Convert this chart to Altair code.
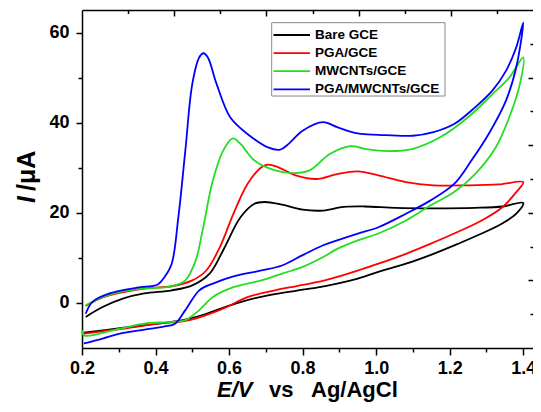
import altair as alt
import pandas as pd

# ---------------- data ----------------
series = ["Bare GCE", "PGA/GCE", "MWCNTs/GCE", "PGA/MWCNTs/GCE"]
colors = ["#000000", "#ff0000", "#22dd22", "#0000ff"]

bare_E = [0.21, 0.256, 0.313, 0.369, 0.444, 0.5, 0.547, 0.584, 0.631, 0.669, 0.697, 0.744, 0.8, 0.856, 0.912,
          0.969, 1.053, 1.156, 1.269, 1.344, 1.4,
          1.381, 1.344, 1.287, 1.222, 1.156, 1.081, 1.006, 0.95, 0.894, 0.838, 0.781, 0.706, 0.631, 0.575,
          0.538, 0.481, 0.406, 0.313, 0.205]
bare_I = [-3.1, -0.9, 1.0, 2.1, 2.8, 3.9, 6.5, 11.7, 19.0, 22.0, 22.4, 21.8, 20.7, 20.5, 21.3,
          21.4, 21.1, 21.0, 21.1, 21.4, 22.2,
          19.8, 17.7, 15.4, 13.1, 10.9, 8.7, 6.9, 5.4, 4.3, 3.4, 2.7, 1.7, 0.2, -1.3,
          -2.4, -3.7, -4.6, -5.5, -6.6]

pga_E = [0.21, 0.256, 0.313, 0.369, 0.444, 0.5, 0.538, 0.575, 0.612, 0.65, 0.688, 0.706, 0.734, 0.781, 0.838,
         0.894, 0.95, 1.006, 1.081, 1.156, 1.25, 1.334, 1.4,
         1.381, 1.344, 1.287, 1.212, 1.147, 1.081, 1.006, 0.95, 0.894, 0.838, 0.781, 0.725, 0.65, 0.594,
         0.538, 0.481, 0.406, 0.313, 0.205]
pga_I = [-0.7, 1.2, 2.4, 3.2, 3.7, 5.0, 7.2, 12.4, 19.8, 26.4, 30.1, 30.7, 30.1, 28.3, 27.5,
         28.6, 29.2, 28.3, 26.8, 26.1, 26.1, 26.3, 26.8,
         24.6, 21.3, 18.3, 15.4, 13.1, 10.9, 8.7, 7.2, 5.8, 4.6, 3.7, 2.8, 1.3, -0.9,
         -2.7, -4.0, -4.6, -5.7, -6.8]

mw_E = [0.21, 0.256, 0.313, 0.369, 0.444, 0.481, 0.509, 0.528, 0.556, 0.584, 0.61, 0.631, 0.669, 0.725, 0.781,
        0.819, 0.875, 0.931, 0.969, 1.034, 1.1, 1.175, 1.25, 1.316, 1.362, 1.4,
        1.391, 1.362, 1.325, 1.269, 1.212, 1.147, 1.081, 1.006, 0.95, 0.894, 0.856, 0.8, 0.744, 0.688,
        0.612, 0.556, 0.519, 0.481, 0.444, 0.369, 0.303, 0.205, 0.201]
mw_I = [-0.5, 1.3, 2.6, 3.2, 3.7, 5.0, 9.4, 16.1, 27.2, 33.8, 36.5, 35.3, 31.6, 29.4, 28.8,
        29.4, 33.1, 34.8, 34.2, 33.7, 34.2, 36.8, 41.2, 46.3, 50.0, 54.5,
        48.6, 41.2, 34.5, 28.6, 24.6, 21.6, 18.3, 15.4, 13.9, 12.0, 10.2, 8.0, 6.5, 5.0,
        3.5, 1.3, -1.6, -3.8, -4.2, -4.6, -5.7, -7.2, -6.0]

pm_E = [0.21, 0.228, 0.275, 0.35, 0.406, 0.425, 0.444, 0.462, 0.481, 0.5, 0.519, 0.53, 0.542, 0.566, 0.603,
        0.65, 0.706, 0.739, 0.762, 0.8, 0.856, 0.894, 0.95, 1.006, 1.1, 1.156, 1.212, 1.269, 1.316, 1.353,
        1.381, 1.4,
        1.381, 1.353, 1.306, 1.259, 1.212, 1.147, 1.081, 1.006, 0.95, 0.894, 0.856, 0.8, 0.744, 0.688,
        0.612, 0.556, 0.519, 0.481, 0.453, 0.425, 0.388, 0.303, 0.256, 0.205]
pm_I = [-2.4, 0.2, 2.1, 3.4, 4.1, 5.8, 8.7, 19.0, 33.8, 48.6, 54.5, 55.4, 54.5, 48.6, 41.2,
        37.5, 34.5, 34.0, 35.3, 38.2, 40.1, 39.0, 37.6, 37.3, 37.1, 37.9, 39.7, 43.4, 47.1, 51.5,
        56.7, 62.2,
        52.3, 44.9, 37.5, 31.6, 26.4, 22.7, 19.8, 16.8, 15.4, 13.9, 12.8, 10.6, 8.3, 7.2,
        5.9, 4.3, 2.8, -1.6, -4.6, -5.2, -5.7, -6.8, -7.9, -9.0]

x_major = [0.2, 0.4, 0.6, 0.8, 1.0, 1.2, 1.4]
x_minor = [0.3, 0.5, 0.7, 0.9, 1.1, 1.3]
y_major = [0, 20, 40, 60]
y_minor = [10, 30, 50]
top_long = [0.4507, 0.7015, 0.9522, 1.2030]
top_short = [0.3254, 0.5761, 0.8269, 1.0776, 1.3283]
right_long = [50, 35, 20, 5]
right_short = [57.5, 42.5, 27.5, 12.5, -2.5]

# ---------------- table ----------------
rows = []
for name, E, I in [(series[0], bare_E, bare_I), (series[1], pga_E, pga_I),
                   (series[2], mw_E, mw_I), (series[3], pm_E, pm_I)]:
    for k, (e, i) in enumerate(zip(E, I)):
        rows.append({"series": name, "E": e, "I": i, "k": k})
df = pd.DataFrame(rows)

W, H = 451, 338
XD = [0.2, 0.2 + W / 367.7]
YD = [-10, 65]
FONT = "Liberation Sans"

xs = alt.Scale(domain=XD, nice=False, zero=False)
ys = alt.Scale(domain=YD, nice=False, zero=False)

base = alt.Chart(df)

lines = base.mark_line(strokeWidth=1.8, interpolate="catmull-rom").encode(
    x=alt.X("E:Q", scale=xs, axis=alt.Axis(values=x_major, format=".1f", title=None, tickSize=7,
                                            labelPadding=4, labelFontSize=18, labelFont=FONT,
                                            labelFontWeight="bold", labelColor="#000", domainColor="#000",
                                            tickColor="#000", domainWidth=1.5, tickWidth=1.5, grid=False,
                                            labelFlush=False, labelOverlap=False)),
    y=alt.Y("I:Q", scale=ys, axis=alt.Axis(values=y_major, format="d", title=None, tickSize=6,
                                            labelPadding=7, labelFontSize=18, labelFont=FONT,
                                            labelFontWeight="bold", labelColor="#000", domainColor="#000",
                                            tickColor="#000", domainWidth=1.5, tickWidth=1.5, grid=False,
                                            labelFlush=False, labelOverlap=False)),
    color=alt.Color("series:N", scale=alt.Scale(domain=series, range=colors), legend=None),
    order="k:Q",
    detail="series:N",
)


def tick_layer(xvals, xsize, xoffset, xdomain, yvals, ysize, yoffset, ydomain):
    return base.mark_point(opacity=0, size=0).encode(
        x=alt.X("E:Q", scale=xs, axis=alt.Axis(values=xvals, labels=False, title=None, tickSize=xsize,
                                                orient="bottom", offset=xoffset, domain=xdomain,
                                                domainColor="#000", domainWidth=1.5, tickColor="#000",
                                                tickWidth=1.5, grid=False)),
        y=alt.Y("I:Q", scale=ys, axis=alt.Axis(values=yvals, labels=False, title=None, tickSize=ysize,
                                                orient="left", offset=yoffset, domain=ydomain,
                                                domainColor="#000", domainWidth=1.5, tickColor="#000",
                                                tickWidth=1.5, grid=False)),
    )


minor = tick_layer(x_minor, 4, 0, False, y_minor, 4, 0, False)
opp_long = tick_layer(top_long, 6, -H, True, right_long, 5, -W, False)
opp_short = tick_layer(top_short, 3.5, -H, False, right_short, 3, -W, False)

one = pd.DataFrame({"a": [0]})

# legend drawn by hand
leg_box = alt.Chart(one).mark_rect(fill="white", stroke="#888888", strokeWidth=1).encode(
    x=alt.value(189.7), x2=alt.value(363), y=alt.value(12.7), y2=alt.value(86))
leg_layers = [leg_box]
for i, (name, col) in enumerate(zip(series, colors)):
    yy = 25 + 18.1 * i
    leg_layers.append(alt.Chart(one).mark_rule(color=col, strokeWidth=1.8).encode(
        x=alt.value(191.5), x2=alt.value(228), y=alt.value(yy)))
    leg_layers.append(alt.Chart(one).mark_text(text=name, align="left", baseline="middle", font=FONT,
                                               fontSize=13.5, fontWeight="bold", color="#000").encode(
        x=alt.value(233), y=alt.value(yy)))

# axis titles with mixed styles
TY = 387
TF = 22
xt1 = alt.Chart(one).mark_text(text="E/V", align="left", baseline="alphabetic", font=FONT, fontSize=TF,
                               fontWeight="bold", fontStyle="italic", color="#000").encode(
    x=alt.value(135), y=alt.value(TY))
xt2 = alt.Chart(one).mark_text(text="vs", align="left", baseline="alphabetic", font=FONT, fontSize=TF,
                               fontWeight="bold", color="#000").encode(x=alt.value(187), y=alt.value(TY))
xt3 = alt.Chart(one).mark_text(text="Ag/AgCl", align="left", baseline="alphabetic", font=FONT, fontSize=TF,
                               fontWeight="bold", color="#000").encode(x=alt.value(229), y=alt.value(TY))
yt1 = alt.Chart(one).mark_text(text="I", align="left", baseline="alphabetic", font=FONT, fontSize=25,
                               fontWeight="bold", fontStyle="italic", angle=270, color="#000").encode(
    x=alt.value(-47.5), y=alt.value(193))
yt2 = alt.Chart(one).mark_text(text="/μA", align="left", baseline="alphabetic", font=FONT, fontSize=25,
                               fontWeight="bold", angle=270, color="#000").encode(
    x=alt.value(-47.5), y=alt.value(181))

chart = alt.layer(lines, minor, opp_long, opp_short, *leg_layers, xt1, xt2, xt3, yt1, yt2).resolve_axis(
    x="independent", y="independent"
).properties(
    width=W, height=H,
    autosize=alt.AutoSizeParams(type="none"),
    padding={"left": 74, "top": 2, "right": 0, "bottom": 56},
).configure_view(stroke=None).configure(background="white")

chart.save("out.html", embed_options={"renderer": "svg", "actions": False})
